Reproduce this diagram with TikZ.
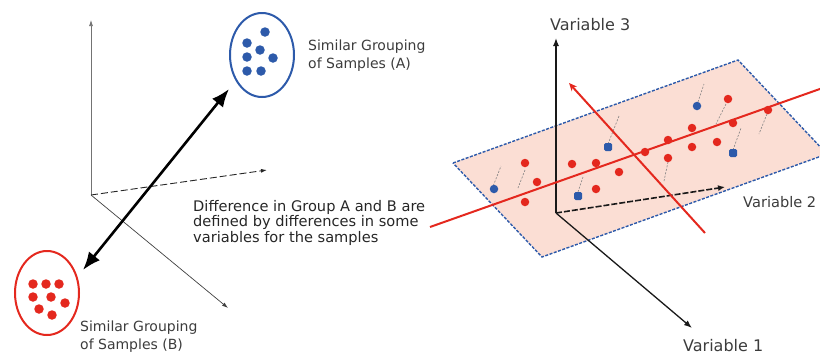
\documentclass[tikz,border=0pt]{standalone}
\usepackage{fontspec}
\setmainfont{DejaVu Sans}
\usetikzlibrary{arrows.meta,shapes.geometric}
\definecolor{pred}{RGB}{228,40,30}
\definecolor{pblue}{RGB}{45,90,170}
\definecolor{pinkfill}{RGB}{251,222,212}
\definecolor{txtgray}{RGB}{60,60,60}
\begin{document}
\begin{tikzpicture}[x=1pt,y=-1pt,
  axisgray/.style={draw=black!55, line width=0.7pt, -{Latex[length=6pt,width=4pt]}},
  axisdark/.style={draw=black!90, line width=1.3pt, -{Latex[length=8pt,width=6pt]}},
  dotr/.style={circle, fill=pred, inner sep=0pt, minimum size=8.5pt},
  dotb/.style={circle, fill=pblue, inner sep=0pt, minimum size=8.5pt},
  sqb/.style={rectangle, rounded corners=1.5pt, fill=pblue, inner sep=0pt, minimum size=8pt},
  proj/.style={draw=black!50, line width=0.6pt, dash pattern=on 2pt off 1.5pt},
  grpellipse/.style={ellipse, line width=2pt, inner sep=0pt, minimum width=64pt, minimum height=84pt},
  lbl/.style={inner sep=0pt, anchor=north west, align=left, text=txtgray, font=\fontsize{14}{18}\selectfont},
  varlbl/.style={inner sep=0pt, anchor=base west, text=txtgray, font=\fontsize{16}{18}\selectfont},
  redline/.style={draw=pred, line width=2pt}
]
\useasboundingbox (0,0) rectangle (820,354);
\clip (0,0) rectangle (820,354);

% ---------------- left: axes
\coordinate (o1) at (91,195);
\coordinate (ax1) at (91,20);
\coordinate (ax2) at (267,170);
\coordinate (ax3) at (228,308);
\draw[axisgray] (o1) -- (ax1);
\draw[axisgray, draw=black!85, line width=0.9pt, dash pattern=on 7pt off 3pt] (o1) -- (ax2);
\draw[axisgray, draw=black!75] (o1) -- (ax3);

% group A
\node[grpellipse, draw=pblue] (grpA) at (262,55) {};
\foreach \p [count=\i] in {(265,32),(247,43),(260,50),(247,57),(273,58),(247,71),(261,71)}
  \node[dotb, minimum size=9.5pt] (a\i) at \p {};
\node[lbl] (labA) at (308,40) {Similar Grouping\\of Samples (A)};

% group B
\node[grpellipse, draw=pred] (grpB) at (47,293) {};
\foreach \p [count=\i] in {(33,284),(46,284),(59,284),(33,297),(51,297),(65,303),(39,309),(52,315)}
  \node[dotr, minimum size=9.5pt] (b\i) at \p {};
\node[lbl] (labB) at (80,321) {Similar Grouping\\of Samples (B)};

% double arrow
\coordinate (dB) at (83,270);
\coordinate (dA) at (229,89);
\draw[line width=2.6pt, {Latex[length=18pt,width=14pt]}-{Latex[length=18pt,width=14pt]}] (dB) -- (dA);

% middle text
\node[lbl, text=black!85, font=\fontsize{14.6}{15.5}\selectfont] (mid) at (193,200)
  {Difference in Group A and B are\\defined by differences in some\\variables for the samples};

% ---------------- right: plane
\coordinate (p1) at (453,163);
\coordinate (p2) at (738,60);
\coordinate (p3) at (827,154);
\coordinate (p4) at (542,257);
\fill[pinkfill] (p1) -- (p2) -- (p3) -- (p4) -- cycle;
\draw[pblue, line width=1.4pt, dash pattern=on 3pt off 1.5pt] (p1) -- (p2) -- (p3) -- (p4) -- cycle;

% axes
\coordinate (o2) at (556,213);
\coordinate (v3) at (556,38);
\coordinate (v1) at (692,328);
\coordinate (v2) at (725,187);
\draw[axisdark] (o2) -- (v3);
\draw[axisdark] (o2) -- (v1);
\draw[axisdark, line width=1.6pt, dash pattern=on 6pt off 2pt, -{Latex[length=7pt,width=6pt]}] (o2) -- (v2);

% projection lines
\draw[proj] (492,189) -- (501,166);
\draw[proj] (525,170) -- (518,188);
\draw[proj] (578,192) -- (583,177);
\draw[proj] (608,144) -- (619,116);
\draw[proj] (668,162) -- (664,181);
\draw[proj] (698,102) -- (704,84);
\draw[proj] (726,104) -- (716,124);
\draw[proj] (733,150) -- (741,128);
\draw[proj] (767,114) -- (759,134);

% red lines
\coordinate (rl1) at (430,227);
\coordinate (rl2) at (830,85.4);
\draw[redline] (rl1) -- (rl2);
\coordinate (rs1) at (705,233);
\coordinate (rs2) at (569,83);
\draw[redline, -{Stealth[length=8pt,width=7pt]}] (rs1) -- (rs2);

% red dots
\foreach \p [count=\i] in {(525,163),(537,182),(525,202),(572,164),(596,163),(619,172),(596,189),
  (645,152),(668,140),(668,158),(692,128),(692,147),(717,142),(728,99),(733,123),(768,110)}
  \node[dotr] (r\i) at \p {};
% blue markers
\node[dotb] (q1) at (494,189) {};
\node[sqb] (q2) at (608,147) {};
\node[sqb] (q3) at (578,196) {};
\node[dotb] (q4) at (697,106) {};
\node[sqb] (q5) at (733,153) {};

% labels
\node[varlbl] (lv3) at (550,30) {Variable 3};
\node[varlbl, font=\fontsize{14.6}{18}\selectfont] (lv2) at (743,207) {Variable 2};
\node[varlbl] (lv1) at (683,351) {Variable 1};
\end{tikzpicture}
\end{document}
